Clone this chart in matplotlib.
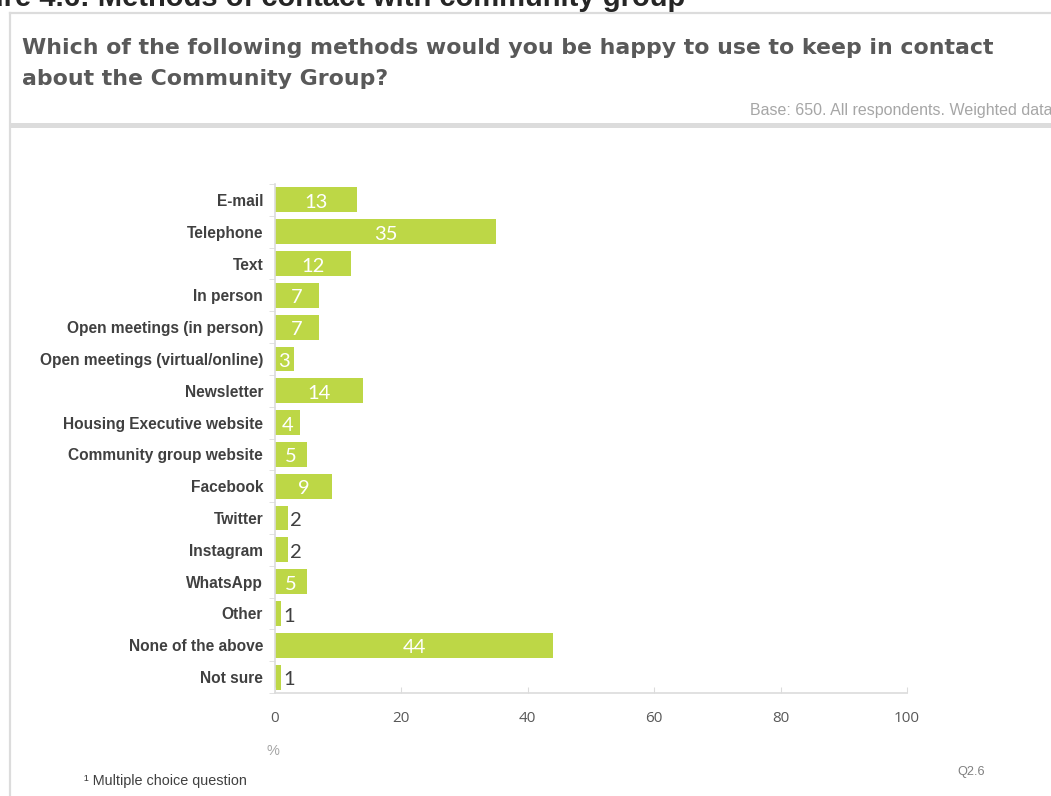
import matplotlib.pyplot as plt
from matplotlib.lines import Line2D
from matplotlib.patches import Rectangle
from matplotlib.ticker import FixedLocator

# survey responses, % of respondents (multiple choice)
methods = ['E-mail', 'Telephone', 'Text', 'In person', 'Open meetings (in person)',
           'Open meetings (virtual/online)', 'Newsletter', 'Housing Executive website',
           'Community group website', 'Facebook', 'Twitter', 'Instagram', 'WhatsApp',
           'Other', 'None of the above', 'Not sure']
percent = [13, 35, 12, 7, 7, 3, 14, 4, 5, 9, 2, 2, 5, 1, 44, 1]
xticks = [0, 20, 40, 60, 80, 100]

W, H = 1051, 796
green = '#bdd746'
frame = '#dcdcdc'

fig = plt.figure(figsize=(W / 100, H / 100), dpi=100)


def fx(x):
    return x / W


def fy(y):
    return 1 - y / H


# panel border and header separator
fig.add_artist(Line2D([fx(10), fx(10)], [fy(13), 0], color=frame, lw=1.6))
fig.add_artist(Line2D([fx(10), 1], [fy(13), fy(13)], color=frame, lw=1.6))
fig.add_artist(Rectangle((fx(11), fy(128)), 1, 5 / H, color=frame, lw=0))

fig.text(fx(685), fy(6), 'Figure 4.6: Methods of contact with community group',
         ha='right', va='baseline', fontsize=21, fontweight='bold', color='#262626',
         family='Liberation Sans')
fig.text(fx(22), fy(48), 'Which of the following methods would you be happy to use to keep in contact',
         ha='left', va='center', fontsize=15.8, fontweight='bold', color='#595959')
fig.text(fx(22), fy(79), 'about the Community Group?',
         ha='left', va='center', fontsize=15.8, fontweight='bold', color='#595959')
fig.text(fx(750), fy(111), 'Base: 650. All respondents. Weighted data',
         ha='left', va='center', fontsize=11.5, color='#a6a6a6', family='Liberation Sans')

ax = fig.add_axes([fx(275), fy(693), fx(907) - fx(275), (693 - 184) / H])
y = list(range(len(methods)))
bars = ax.barh(y, percent, height=0.78, color=green)

# value labels: white inside wider bars, dark just past the short ones
for b, v in zip(bars, percent):
    yc = b.get_y() + b.get_height() / 2 + 0.08
    if v >= 3:
        ax.text(v / 2, yc, str(v), ha='center', va='center', color='white',
                fontsize=14.5, family='Lato')
    else:
        ax.text(v + 0.4, yc, str(v), ha='left', va='center', color='#404040',
                fontsize=14.5, family='Lato')

ax.set_xlim(0, 100)
ax.set_ylim(len(methods) - 0.5, -0.5)
ax.set_xticks(xticks)
ax.set_yticks(y)
ax.set_yticklabels(methods, fontsize=11.2, fontweight='bold', color='#404040',
                   family='Liberation Sans')
ax.yaxis.set_minor_locator(FixedLocator([i - 0.5 for i in range(len(methods) + 1)]))
ax.tick_params(axis='y', which='major', length=0, pad=8.5)
ax.tick_params(axis='y', which='minor', length=4, color=frame, direction='out')
ax.tick_params(axis='x', length=4.5, color=frame, direction='in', pad=13,
               labelsize=11, labelcolor='#595959')
for lab in ax.get_xticklabels():
    lab.set_family('Open Sans')

for s in ['top', 'right']:
    ax.spines[s].set_visible(False)
for s in ['left', 'bottom']:
    ax.spines[s].set_color(frame)
    ax.spines[s].set_linewidth(1.2)

fig.text(fx(273), fy(751), '%', ha='center', va='center', fontsize=10.5,
         color='#a6a6a6', family='Liberation Sans')
fig.text(fx(84), fy(781), '¹ Multiple choice question', ha='left', va='center',
         fontsize=10.4, color='#404040', family='Liberation Sans')
fig.text(fx(957), fy(772), 'Q2.6', ha='left', va='center', fontsize=9.2,
         color='#808080', family='Liberation Sans')

fig.savefig('out.png', dpi=100)
